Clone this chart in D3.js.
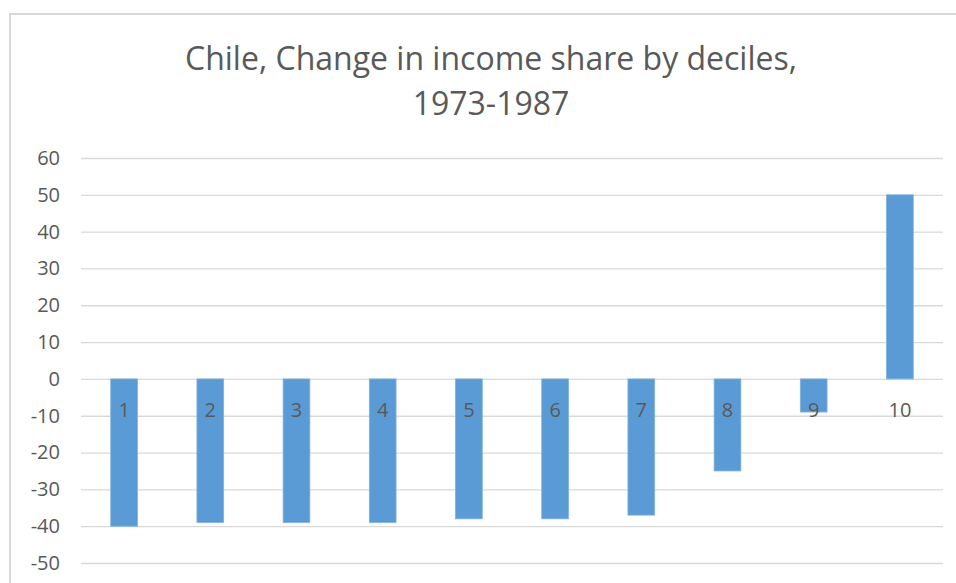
<!DOCTYPE html>
<html>
<head>
<meta charset="utf-8">
<script src="https://cdn.jsdelivr.net/npm/d3@7"></script>
<style>
  body { margin: 0; background: #fff; }
  svg { display: block; font-family: "Open Sans", Lato, sans-serif; }
</style>
</head>
<body>
<div id="chart-holder"></div>
<script>
// chart data
var deciles = ["1", "2", "3", "4", "5", "6", "7", "8", "9", "10"];
var changeValues = [-40, -39, -39, -39, -38, -38, -37, -25, -9, 50];
var yTicks = [-50, -40, -30, -20, -10, 0, 10, 20, 30, 40, 50, 60];
var titleLines = ["Chile, Change in income share by deciles,", "1973-1987"];

var width = 956, height = 583;
var margin = { left: 81, right: 13, top: 158, bottom: 20 };

var svg = d3
  .select("#chart-holder")
  .append("svg")
  .attr("width", width)
  .attr("height", height)
;

// chart area border (runs off the right and bottom edges)
svg.append("rect")
  .attr("x", 10)
  .attr("y", 14)
  .attr("width", 1000)
  .attr("height", 700)
  .attr("fill", "none")
  .attr("stroke", "#d9d9d9")
  .attr("stroke-width", 2);

// scales
var x = d3
  .scaleBand()
  .domain(deciles)
  .range([margin.left, 943])
  .paddingInner(0.69)
  .paddingOuter(0.345)
;

var y = d3
  .scaleLinear()
  .domain([-50, 60])
  .range([563, 158])
;

// title
svg.append("g")
  .selectAll("text")
  .data(titleLines)
  .enter()
  .append("text")
  .attr("x", 491)
  .attr("y", function(d, i) { return 70 + i * 45; })
  .attr("text-anchor", "middle")
  .attr("font-size", 32)
  .attr("fill", "#595959")
  .text(function(d) { return d; });

// gridlines + y labels via axis (plain hyphen minus like the original)
var yAxis = svg.append("g")
  .attr("transform", "translate(" + margin.left + ",0)")
  .call(d3.axisLeft(y)
    .tickValues(yTicks)
    .tickFormat(function(d) { return String(d); })
    .tickSize(-(943 - margin.left))
    .tickPadding(21));

yAxis.select(".domain").remove();
yAxis.selectAll(".tick line")
  .attr("stroke", "#d9d9d9")
  .attr("stroke-width", 1.3);
yAxis.selectAll(".tick text")
  .attr("fill", "#595959")
  .attr("font-size", 20)
  .attr("font-family", "'Open Sans', Lato, sans-serif");

// bars
svg.append("g")
  .selectAll("rect")
  .data(changeValues)
  .enter()
  .append("rect")
  .attr("x", function(d, i) { return x(deciles[i]); })
  .attr("y", function(d) { return y(Math.max(0, d)); })
  .attr("width", x.bandwidth())
  .attr("height", function(d) { return Math.abs(y(d) - y(0)); })
  .attr("fill", "#5b9bd5")
  .attr("stroke", "#7fb0de")
  .attr("stroke-width", 0.8);

// category labels sit just below the zero line
svg.append("g")
  .selectAll("text")
  .data(deciles)
  .enter()
  .append("text")
  .attr("x", function(d) { return x(d) + x.bandwidth() / 2; })
  .attr("y", y(0) + 38)
  .attr("text-anchor", "middle")
  .attr("font-size", 20)
  .attr("fill", "#595959")
  .text(function(d) { return d; });
</script>
</body>
</html>
